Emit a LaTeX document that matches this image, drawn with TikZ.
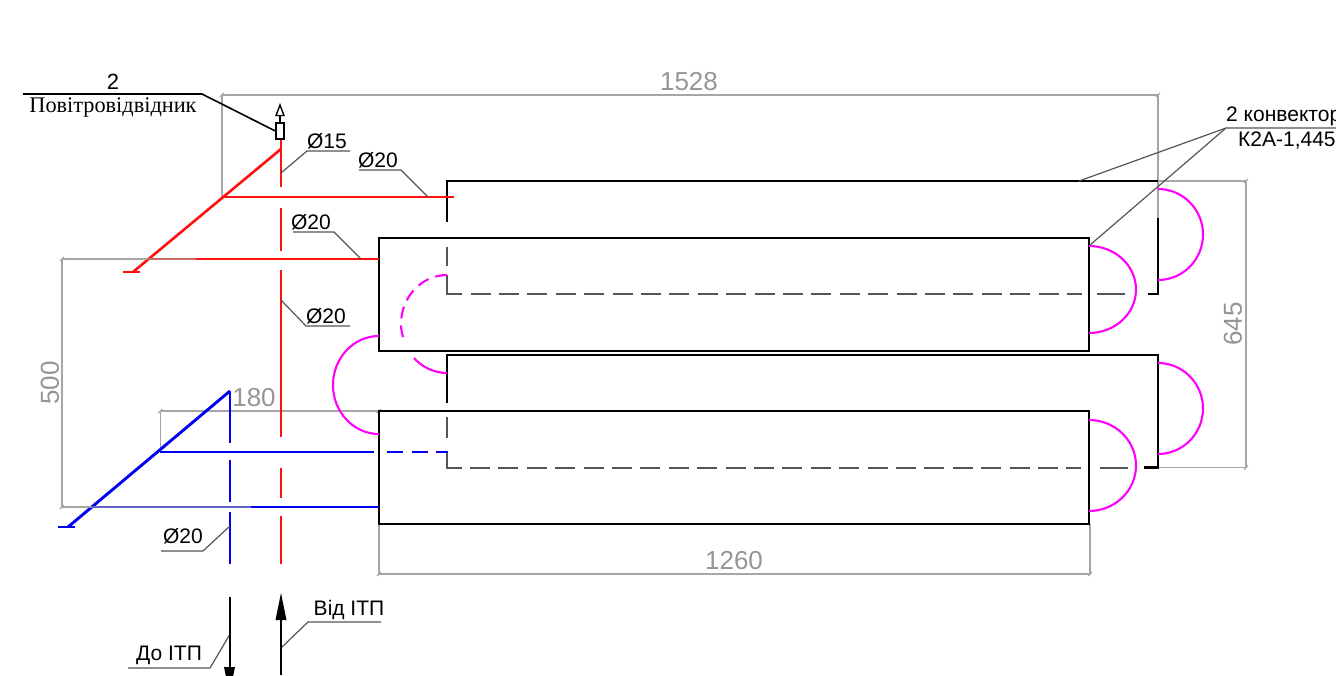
\documentclass[tikz,border=0pt]{standalone}
\usepackage{fontspec}
\setmainfont{Liberation Sans}
\newfontfamily\cyrserif{Liberation Serif}
\definecolor{dimgray}{HTML}{A6A6A6}
\definecolor{leadgray}{HTML}{555555}
\definecolor{hidgray}{HTML}{555555}
\definecolor{pipered}{HTML}{FF1010}
\definecolor{pipeblue}{HTML}{0000F0}
\definecolor{loopmag}{HTML}{FF00FF}
\tikzset{
  dimline/.style={draw=dimgray,line width=1.6pt},
  dimtext/.style={text=dimgray!90!black,inner sep=0pt,font=\fontsize{26}{26}\selectfont},
  leadline/.style={draw=leadgray,line width=1.2pt},
  lab/.style={text=black,inner sep=0pt,font=\fontsize{21}{21}\selectfont},
  body/.style={draw=black,line width=2.5pt},
  hidden/.style={draw=hidgray,line width=2pt},
  hiddash/.style={hidden,dash pattern=on 20pt off 8.4pt},
  redpipe/.style={draw=pipered,line width=2.6pt},
  bluepipe/.style={draw=pipeblue,line width=2.9pt},
  magline/.style={draw=loopmag,line width=2.1pt},
}
\newcommand{\bulge}[5][]{%
  \pgfmathsetmacro\cxa{#2+.5523*(#5-#2)}%
  \pgfmathsetmacro\mymid{(#3+#4)/2}%
  \pgfmathsetmacro\cya{\mymid-.5523*(#4-#3)/2}%
  \pgfmathsetmacro\cyb{\mymid+.5523*(#4-#3)/2}%
  \draw[magline] (#2,#3) .. controls (\cxa,#3) and (#5,\cya) .. (#5,\mymid) .. controls (#5,\cyb) and (\cxa,#4) .. (#2,#4);}
\newcommand{\dimtick}[2]{\draw[draw=dimgray,line width=1.2pt] (#1-2,#2+2) -- (#1+2,#2-2);}
\begin{document}
\begin{tikzpicture}[x=1pt,y=-1pt,line cap=butt]
\useasboundingbox (0,0) rectangle (1336,675);

% gray dimensions
\draw[dimline] (222,197) -- (222,95) -- (1158,95) -- (1158,218);
\draw[dimline] (1158,181) -- (1246,181) -- (1246,467.5) -- (1158,467.5);
\draw[dimline] (379,524) -- (379,574) -- (1090,574) -- (1090,524);
\draw[dimline] (160.5,452) -- (160.5,411) -- (379,411);
\draw[dimline] (62,259) -- (62,507);
\foreach \px/\py in {222/95,1158/95,1246/181,1246/467.5,379/574,1090/574,160.5/411,379/411,62/259,62/507}{\dimtick{\px}{\py}}

% back convectors
\draw[body] (447,222) -- (447,181) -- (1158,181);
\draw[body] (1158,218) -- (1158,294) -- (1148,294);
\draw[body] (447,403) -- (447,355) -- (1158,355) -- (1158,467.5) -- (1144,467.5);
\draw[hidden] (447,247) -- (447,266);
\draw[hidden] (447,275) -- (447,294) -- (462,294);
\draw[hiddash] (470.5,294) -- (1081.7,294);
\draw[hidden] (1097,294) -- (1125,294);
\draw[hidden] (447,417) -- (447,438);
\draw[hidden] (447,452) -- (447,467.5) -- (462,467.5);
\draw[hiddash] (470,467.5) -- (1081,467.5);
\draw[hidden] (1100,467.5) -- (1128,467.5);

% front convectors
\draw[body] (379,238) rectangle (1089,351);
\draw[body] (379,411) rectangle (1089,524);

% connecting loops
\bulge{1089}{246}{333}{1136}
\bulge{1089}{420}{511}{1136}
\bulge{1158}{189}{280}{1203}
\bulge{1158}{363}{454}{1203}
\bulge{379}{336}{434}{333}
\draw[magline,dash pattern=on 12pt off 7pt] (447,275) .. controls (421.6,275) and (401,297) .. (401,324) .. controls (401,331) and (402.5,335.5) .. (404,340);
\draw[magline] (414,358) .. controls (422,367) and (434,373) .. (447,373);

% red pipes
\draw[redpipe] (281,140) -- (281,187);
\draw[redpipe] (281,208) -- (281,251);
\draw[redpipe] (281,270) -- (281,437);
\draw[redpipe] (281,468) -- (281,498);
\draw[redpipe] (281,516) -- (281,564);
\draw[redpipe] (281,149) -- (133,272);
\draw[redpipe] (123,272) -- (140,272);
\draw[redpipe] (222,197) -- (454,197);
\draw[redpipe] (147,259) -- (379,259);
\draw[dimline] (62,259) -- (147,259);
\draw[dimline,opacity=.6] (147,259) -- (196,259);

% blue pipes
\draw[bluepipe] (230,391) -- (230,443);
\draw[bluepipe] (230,460) -- (230,502);
\draw[bluepipe] (230,512) -- (230,564);
\draw[bluepipe] (230,391) -- (68,527);
\draw[bluepipe] (58,527) -- (75,527);
\draw[bluepipe] (160,452) -- (374,452);
\draw[bluepipe,dash pattern=on 16pt off 8.5pt] (387,452) -- (448,452);
\draw[bluepipe] (91,507) -- (379,507);
\draw[dimline] (62,507) -- (91,507);
\draw[dimline,opacity=.6] (91,507) -- (251,507);

% air vent
\node[draw=black,line width=1.4pt,fill=white,minimum width=8pt,minimum height=16pt,inner sep=0pt] (vent) at (280,131) {};
\coordinate (ventstem) at (280,115.5);
\draw[black,line width=1.4pt] (vent.north) -- (ventstem);
\draw[black,line width=1.4pt,fill=white] (276,115.5) -- (280,105) -- (284,115.5) -- cycle;

% leaders and underlines
\draw[draw=black,line width=1.6pt] (23,94) -- (202,94) -- (vent.west);
\node[lab,font=\fontsize{22}{22}\selectfont] (t2) at (113,82) {2};
\node[inner sep=0pt,font=\cyrserif\fontsize{22.3}{22.3}\selectfont] (tvent) at (113,107) {Повітровідвідник};

\draw[leadline] (350,151) -- (307,151) -- (281,173);
\node[lab] (d15) at (327,141) {Ø15};
\draw[leadline] (359,170) -- (401,170) -- (428,197);
\node[lab] (d20a) at (378,160) {Ø20};
\draw[leadline] (293,232) -- (334,232) -- (361,259);
\node[lab] (d20b) at (311,222) {Ø20};
\draw[leadline] (350,326) -- (306,326) -- (281,300);
\node[lab] (d20c) at (326,316) {Ø20};
\draw[leadline] (161,551) -- (203,551) -- (230,526);
\node[lab] (d20d) at (183,536) {Ø20};

\draw[leadline] (381,622) -- (308,622) -- (281,648);
\node[lab] (ot) at (349,609.5) {Від ІТП};
\draw[leadline] (128,668) -- (210,668) -- (229.5,635);
\node[lab] (to) at (169,655) {До ІТП};

\draw[leadline] (1336,128) -- (1226,128) -- (1079,181);
\draw[leadline] (1226,128) -- (1090,245);
\node[lab,anchor=west] (conv) at (1226,116.5) {2 конвектор};
\node[lab,anchor=west] (convb) at (1238,140.5) {К2А-1,445};

% flow arrows
\draw[black,line width=2pt] (229.5,597) -- (229.5,675);
\fill[black] (224,667) -- (235,667) -- (229.5,694) -- cycle;
\draw[black,line width=2pt] (281,620) -- (281,675);
\fill[black] (275.5,620) -- (286.5,620) -- (281,593) -- cycle;

% dimension texts
\node[dimtext] (n1528) at (689,82) {1528};
\node[dimtext] (n1260) at (734,561) {1260};
\node[dimtext] (n180) at (254,398) {180};
\node[dimtext,rotate=90] (n500) at (50,383) {500};
\node[dimtext,rotate=90] (n645) at (1233,324) {645};
\end{tikzpicture}
\end{document}
